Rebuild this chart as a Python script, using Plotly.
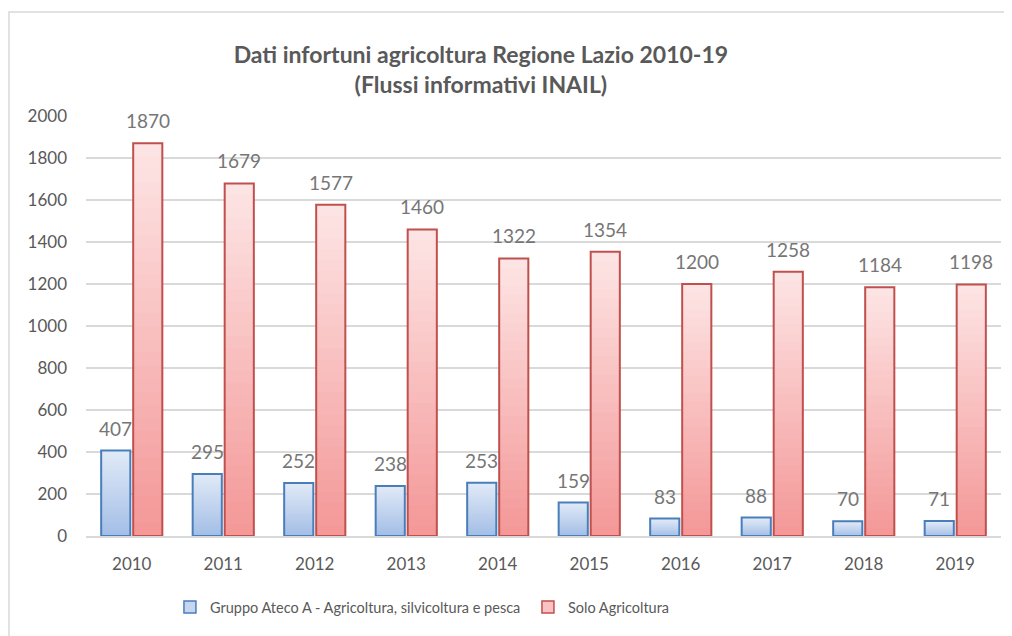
import plotly.graph_objects as go

years = ["2010", "2011", "2012", "2013", "2014", "2015", "2016", "2017", "2018", "2019"]
ateco_a = [407, 295, 252, 238, 253, 159, 83, 88, 70, 71]
solo_agr = [1870, 1679, 1577, 1460, 1322, 1354, 1200, 1258, 1184, 1198]
y_ticks = [0, 200, 400, 600, 800, 1000, 1200, 1400, 1600, 1800, 2000]

name_a = "Gruppo Ateco A - Agricoltura, silvicoltura e pesca"
name_b = "Solo Agricoltura"

FONT = "Lato, 'Open Sans', sans-serif"
GRAY = "#595959"
LABEL_GRAY = "#767676"

W, H = 1004, 628
ML, MR, MT, MB = 78, 11, 108, 100
BARGAP, GROUPGAP = 0.30, 0.09
plot_w = W - ML - MR
cat_w = plot_w / len(years)
slot = cat_w * (1 - BARGAP) / 2

series = [
    dict(name=name_a, vals=ateco_a, group="a", top=(224, 234, 247), bot=(164, 190, 230),
         line="#4a7ebb", legend_fill="#c6d6ef", shift=-slot / 2),
    dict(name=name_b, vals=solo_agr, group="b", top=(253, 228, 228), bot=(244, 152, 152),
         line="#c0504d", legend_fill="#f9c3c3", shift=slot / 2),
]

K = 30
fig = go.Figure()
annotations = []
for s in series:
    vals = s["vals"]
    for i in range(K):
        t = i / (K - 1)
        c = tuple(round(s["bot"][j] + (s["top"][j] - s["bot"][j]) * t) for j in range(3))
        frac = min(2, K - i) / K
        fig.add_trace(go.Bar(
            x=years, y=[v * frac for v in vals], base=[v * i / K for v in vals],
            offsetgroup=s["group"], marker=dict(color="rgb(%d,%d,%d)" % c, line=dict(width=0)),
            showlegend=False, hoverinfo="skip",
        ))
    # outline
    fig.add_trace(go.Bar(
        x=years, y=vals, base=[0] * len(vals), offsetgroup=s["group"],
        marker=dict(color="rgba(0,0,0,0)", line=dict(color=s["line"], width=2)),
        showlegend=False, name=s["name"],
    ))
    # legend-only swatch
    fig.add_trace(go.Bar(
        x=[years[0]], y=[None], name=s["name"], offsetgroup=s["group"],
        marker=dict(color=s["legend_fill"], line=dict(color=s["line"], width=1.5)),
        showlegend=True,
    ))
    for idx, v in enumerate(vals):
        annotations.append(dict(
            x=idx, y=v, xref="x", yref="y", text=str(v), showarrow=False,
            xshift=s["shift"], yshift=9, yanchor="bottom", xanchor="center",
            font=dict(family=FONT, size=19, color=LABEL_GRAY),
        ))

fig.update_layout(
    width=W, height=H,
    paper_bgcolor="white", plot_bgcolor="white",
    margin=dict(l=ML, r=MR, t=MT, b=MB, autoexpand=False),
    barmode="group", bargap=BARGAP, bargroupgap=GROUPGAP,
    font=dict(family=FONT, color=GRAY, size=16),
    title=dict(
        text="<b>Dati infortuni agricoltura Regione Lazio 2010-19<br>(Flussi informativi INAIL)</b>",
        x=0.471, xref="container", xanchor="center", y=1 - 55 / H, yref="container", yanchor="top",
        font=dict(family=FONT, size=23, color=GRAY),
    ),
    xaxis=dict(type="category", categoryorder="array", categoryarray=years,
               range=[-0.5, len(years) - 0.5],
               showgrid=False, showline=True, linecolor="#d9d9d9", linewidth=1.5,
               tickfont=dict(family=FONT, size=17, color=GRAY), ticks="", ticklabelstandoff=12),
    yaxis=dict(range=[0, 2000], tickvals=y_ticks, showgrid=True, gridcolor="#d9d9d9", gridwidth=1.5,
               zeroline=False, showline=False, ticks="",
               tickfont=dict(family=FONT, size=17, color=GRAY), ticklabelstandoff=18),
    legend=dict(orientation="h", x=0.483, xanchor="center", y=-71 / 420, yanchor="middle",
                font=dict(family=FONT, size=14.5, color=GRAY), entrywidth=313, itemwidth=30),
    annotations=annotations,
    shapes=[
        dict(type="rect", xref="paper", yref="paper", x0=(1 - ML) / plot_w, x1=1.03,
             y0=-0.3, y1=(H - MB - 4) / 420,
             line=dict(color="#d9d9d9", width=1.5), fillcolor="rgba(0,0,0,0)", layer="below"),
    ],
)

fig.write_html("out.html")
